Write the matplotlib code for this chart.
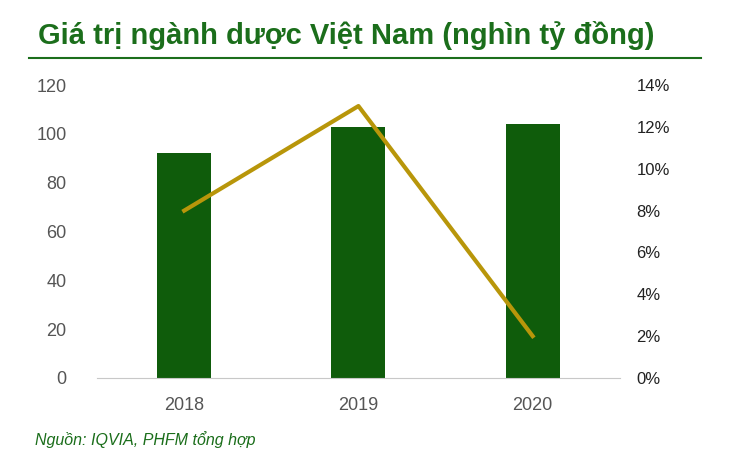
import matplotlib
matplotlib.use("Agg")
import matplotlib.pyplot as plt
from matplotlib.lines import Line2D

years = ["2018", "2019", "2020"]
value = [92, 103, 104]          # nghìn tỷ đồng
growth = [8.0, 13.0, 2.0]       # %

plt.rcParams['font.family'] = ['Liberation Sans', 'DejaVu Sans']

fig = plt.figure(figsize=(7.3, 4.73), dpi=100)
ax = fig.add_axes([0.133, 0.201, 0.716, 0.619])
x = range(len(years))
ax.bar(x, value, width=0.31, color='#0f5c0b', zorder=2)
ax.set_xlim(-0.5, 2.5)
ax.set_ylim(0, 120)
ax.set_yticks(range(0, 121, 20))
ax.set_xticks(list(x))
ax.set_xticklabels(years)
for s in ['top', 'right', 'left']:
    ax.spines[s].set_visible(False)
ax.spines['bottom'].set_color('#c8c8c8')
ax.tick_params(length=0, labelsize=13, colors='#555555', pad=14)
ax.tick_params(axis='y', pad=22)

ax2 = ax.twinx()
ax2.plot(list(x), growth, color='#b8960a', lw=3, zorder=3)
ax2.set_ylim(0, 14)
ax2.set_yticks(range(0, 15, 2))
ax2.set_yticklabels([f"{v}%" for v in range(0, 15, 2)])
for s in ['top', 'right', 'left', 'bottom']:
    ax2.spines[s].set_visible(False)
ax2.tick_params(length=0, labelsize=12, colors='#222222', pad=12)

fig.text(0.052, 0.925, "Giá trị ngành dược Việt Nam (nghìn tỷ đồng)",
         color='#1b6e1b', fontsize=21, fontweight='bold', va='center')
fig.add_artist(Line2D([0.04, 0.96], [0.878, 0.878], color='#1b6e1b', lw=1.5))
fig.text(0.048, 0.07, "Nguồn: IQVIA, PHFM tổng hợp", color='#1b6e1b',
         fontsize=11.5, style='italic', va='center')

fig.savefig("out.png", dpi=100)
